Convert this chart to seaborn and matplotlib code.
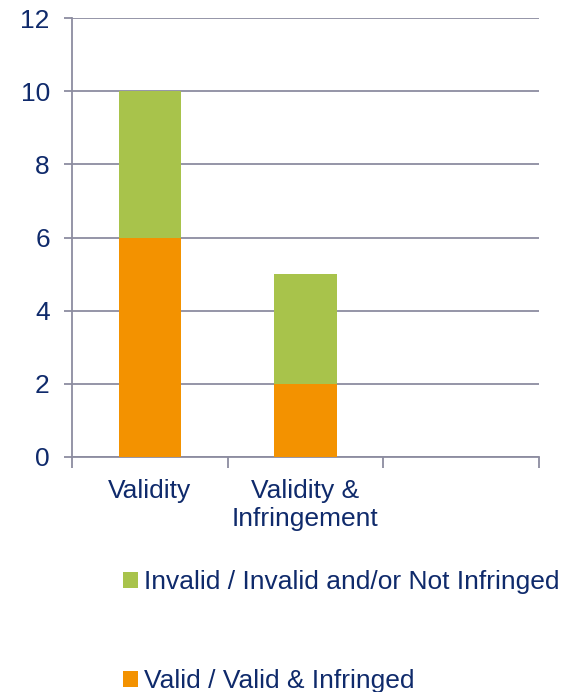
import matplotlib
matplotlib.use("Agg")
import matplotlib.pyplot as plt
import seaborn as sns
import pandas as pd
import numpy as np
from matplotlib.patches import Patch

categories = ["Validity", "Validity &\nInfringement", ""]
valid = [6, 2, np.nan]
invalid = [4, 3, np.nan]
series_labels = ["Invalid / Invalid and/or Not Infringed", "Valid / Valid & Infringed"]
y_ticks = [0, 2, 4, 6, 8, 10, 12]

GREEN = "#a8c34b"
ORANGE = "#f39200"
NAVY = "#0f2a6b"
GRID = "#8c8ca0"
FS = 19

sns.set_theme(style="white")
plt.rcParams["font.family"] = ["Liberation Sans", "DejaVu Sans"]

df = pd.DataFrame({"category": categories, "valid": valid, "invalid": invalid})
df["total"] = df["valid"] + df["invalid"]

fig = plt.figure(figsize=(5.77, 6.92), dpi=100)
ax = fig.add_axes([72 / 577, 1 - 457 / 692, (539 - 72) / 577, (457 - 18) / 692])

# stacked bars: total drawn first (green), valid part on top of it (orange)
sns.barplot(data=df, x="category", y="total", color=GREEN, width=0.4,
            saturation=1, linewidth=0, ax=ax, zorder=3)
sns.barplot(data=df, x="category", y="valid", color=ORANGE, width=0.4,
            saturation=1, linewidth=0, ax=ax, zorder=3)

ax.set_xlim(-0.5, 2.5)
ax.set_ylim(0, 12)
ax.set_yticks(y_ticks)
ax.set_xlabel("")
ax.set_ylabel("")

ax.grid(axis="y", color=GRID, linewidth=1.3, zorder=0)
ax.grid(axis="x", visible=False)
for side in ["top", "right"]:
    ax.spines[side].set_visible(False)
for side in ["left", "bottom"]:
    ax.spines[side].set_color(GRID)
    ax.spines[side].set_linewidth(1.3)

ax.tick_params(axis="y", left=True, length=6, width=1.3, color=GRID,
               labelsize=FS, labelcolor=NAVY, pad=10)
ax.tick_params(axis="x", which="major", bottom=False, length=0,
               labelsize=FS, labelcolor=NAVY, pad=16)
ax.set_xticks([-0.5, 0.5, 1.5, 2.5], minor=True)
ax.tick_params(axis="x", which="minor", bottom=True, length=8, width=1.3, color=GRID)

handles = [Patch(facecolor=GREEN, edgecolor="none"), Patch(facecolor=ORANGE, edgecolor="none")]
leg = fig.legend(handles, series_labels, loc="upper left",
                 bbox_to_anchor=(123 / 577, 1 - 570 / 692), frameon=False,
                 fontsize=FS, labelcolor=NAVY, handlelength=0.55, handleheight=0.55,
                 handletextpad=0.25, labelspacing=2.85, borderpad=0, borderaxespad=0)

fig.savefig("out.png", dpi=100, facecolor="white")
